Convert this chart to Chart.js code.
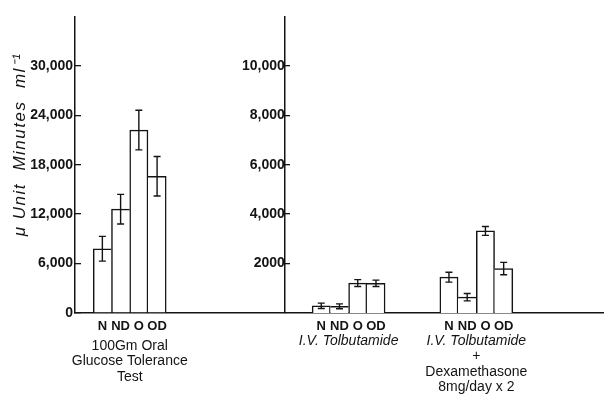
<!DOCTYPE html>
<html>
<head>
<meta charset="utf-8">
<script src="https://cdn.jsdelivr.net/npm/chart.js@4/dist/chart.umd.min.js"></script>
<style>
  html, body { margin:0; padding:0; background:#fff; }
  canvas { display:block; }
</style>
</head>
<body>
<canvas id="c" width="604" height="402"></canvas>
<script>
'use strict';

/* ── DATA ────────────────────────────────────────────────── */
const GROUP_LABELS = ['N', 'ND', 'O', 'OD'];

const GTT      = [7800, 12600, 22200, 16600];   // μU·min/ml, left axis
const GTT_ERR  = [1500, 1800, 2400, 2400];
const TOLB     = [290, 270, 1210, 1200];         // right axis
const TOLB_ERR = [110, 100, 140, 130];
const DEXA     = [1450, 640, 3320, 1800];        // right axis
const DEXA_ERR = [200, 150, 180, 250];

const Y_TICKS        = [0, 6000, 12000, 18000, 24000, 30000];
const Y_TICK_LABELS  = ['0', '6,000', '12,000', '18,000', '24,000', '30,000'];
const Y2_TICKS       = [2000, 4000, 6000, 8000, 10000];
const Y2_TICK_LABELS = ['2000', '4,000', '6,000', '8,000', '10,000'];

const Y_TITLE = 'μ Unit  Minutes  ml⁻¹';
const CAPTIONS = [
  ['100Gm Oral', 'Glucose Tolerance', 'Test'],
  ['I.V. Tolbutamide'],
  ['I.V. Tolbutamide', '+', 'Dexamethasone', '8mg/day x 2'],
];

/* ── LAYOUT ──────────────────────────────────────────────── */
const INK = '#141414';
const N_SLOTS = 29;
const GROUP_START = [1, 13, 20];     // first category slot of each bar group
const RIGHT_AXIS_SLOT = 11;          // the second y axis stands on this slot
const CAPTION_TOP = [33, 28, 28];
const FONT = '"Liberation Sans", Arial, sans-serif';

/* ── HELPERS ─────────────────────────────────────────────── */
const slotLabels = Array(N_SLOTS).fill('');
GROUP_START.forEach(s => GROUP_LABELS.forEach((l, i) => { slotLabels[s + i] = l; }));

function spread(vals, g) {
  const a = Array(N_SLOTS).fill(null);
  vals.forEach((v, i) => { a[GROUP_START[g] + i] = v; });
  return a;
}

// shared edges between touching bars are drawn once, by the taller bar
function edges(ctx) {
  const d = ctx.dataset.data, i = ctx.dataIndex, v = d[i];
  const prev = d[i - 1], next = d[i + 1];
  return {
    top: 1.5, bottom: 0,
    left:  (prev == null || prev <= v) ? 1.5 : 0,
    right: (next == null || next < v) ? 1.5 : 0,
  };
}

const barSet = (label, vals, errs, g, axis) => ({
  label, data: spread(vals, g), err: spread(errs, g), yAxisID: axis,
  backgroundColor: '#fff', borderColor: INK, borderWidth: edges,
  borderSkipped: 'bottom', grouped: false,
  barPercentage: 1, categoryPercentage: 1,
});

/* ── PLUGINS ─────────────────────────────────────────────── */
const errorBars = {
  id: 'errorBars',
  afterDatasetsDraw(chart) {
    const { ctx } = chart;
    ctx.save();
    ctx.strokeStyle = INK;
    ctx.lineWidth = 1.4;
    chart.data.datasets.forEach((ds, di) => {
      const ys = chart.scales[ds.yAxisID];
      chart.getDatasetMeta(di).data.forEach((bar, i) => {
        const v = ds.data[i], e = ds.err[i];
        if (v == null || e == null) return;
        const x = bar.x;
        const yt = ys.getPixelForValue(v + e), yb = ys.getPixelForValue(v - e);
        ctx.beginPath();
        ctx.moveTo(x, yt); ctx.lineTo(x, yb);
        ctx.moveTo(x - 3.5, yt); ctx.lineTo(x + 3.5, yt);
        ctx.moveTo(x - 3.5, yb); ctx.lineTo(x + 3.5, yb);
        ctx.stroke();
      });
    });
    ctx.restore();
  }
};

const captions = {
  id: 'captions',
  afterDraw(chart) {
    const { ctx, chartArea, scales: { x } } = chart;
    ctx.save();
    ctx.fillStyle = INK;
    ctx.textAlign = 'center';
    ctx.textBaseline = 'middle';
    CAPTIONS.forEach((lines, g) => {
      const cx = x.getPixelForValue(GROUP_START[g] + 1.5);
      lines.forEach((t, k) => {
        ctx.font = (t.startsWith('I.V.') ? 'italic ' : '') + '14px ' + FONT;
        ctx.fillText(t, cx, chartArea.bottom + CAPTION_TOP[g] + k * 15.5);
      });
    });
    ctx.translate(20, chartArea.top + 128);
    ctx.rotate(-Math.PI / 2);
    ctx.font = 'italic 17px ' + FONT;
    ctx.letterSpacing = '1.5px';
    ctx.fillText(Y_TITLE, 0, 0);
    ctx.restore();
  }
};

/* ── CHART ───────────────────────────────────────────────── */
const tickFont = { family: FONT, size: 14, weight: 'bold' };
const yGrid = { drawOnChartArea: false, tickLength: -6, color: INK, lineWidth: 1.3 };
const yBorder = { color: INK, width: 1.5 };

new Chart(document.getElementById('c'), {
  type: 'bar',
  data: {
    labels: slotLabels,
    datasets: [
      barSet('Oral GTT', GTT, GTT_ERR, 0, 'y'),
      barSet('I.V. Tolbutamide', TOLB, TOLB_ERR, 1, 'y2'),
      barSet('I.V. Tolbutamide + Dexamethasone', DEXA, DEXA_ERR, 2, 'y2'),
    ]
  },
  options: {
    responsive: false, animation: false,
    layout: { padding: { top: 13, right: 0, left: 0, bottom: 0 } },
    plugins: { legend: { display: false }, tooltip: { enabled: false } },
    scales: {
      x: {
        offset: true,
        grid: { drawOnChartArea: false, drawTicks: false },
        border: { color: INK, width: 1.5 },
        ticks: { autoSkip: false, maxRotation: 0, color: INK, padding: 6,
                 font: { family: FONT, size: 13, weight: 'bold' } },
        afterFit: s => { s.height = 89; },
      },
      y: {
        position: 'left', min: 0, max: 36000,
        afterBuildTicks: s => { s.ticks = Y_TICKS.map(value => ({ value })); },
        ticks: { callback: (v, i) => Y_TICK_LABELS[i], color: INK, font: tickFont, padding: 8 },
        grid: yGrid, border: yBorder,
        afterFit: s => { s.width = 75; },
      },
      y2: {
        position: { x: RIGHT_AXIS_SLOT }, min: 0, max: 12000,
        afterBuildTicks: s => { s.ticks = Y2_TICKS.map(value => ({ value })); },
        ticks: { callback: (v, i) => Y2_TICK_LABELS[i], color: INK, font: tickFont, padding: 8 },
        grid: yGrid, border: yBorder,
      },
    }
  },
  plugins: [errorBars, captions]
});
</script>
</body>
</html>
